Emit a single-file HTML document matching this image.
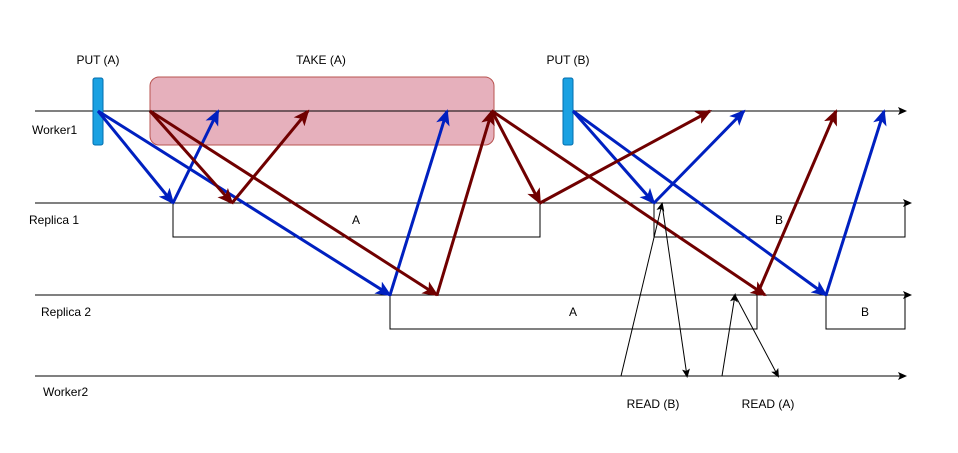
<!DOCTYPE html>
<html><head><meta charset="utf-8"><style>
html,body{margin:0;padding:0;background:#fff;width:958px;height:453px;overflow:hidden}
text{font-family:"Liberation Sans",sans-serif;font-size:12px;fill:#000}
</style></head><body>
<svg width="958" height="453" viewBox="0 0 958 453">
<defs>
<marker id="ab" markerWidth="16" markerHeight="14" refX="14" refY="7" orient="auto" markerUnits="userSpaceOnUse" viewBox="0 0 16 14"><path d="M0,0 L16,7 L0,14 L4,7z" fill="#0020c0"/></marker>
<marker id="ar" markerWidth="16" markerHeight="14" refX="14" refY="7" orient="auto" markerUnits="userSpaceOnUse" viewBox="0 0 16 14"><path d="M0,0 L16,7 L0,14 L4,7z" fill="#700000"/></marker>
<marker id="ak" markerWidth="9" markerHeight="8" refX="7" refY="4" orient="auto" markerUnits="userSpaceOnUse" viewBox="0 0 9 8"><path d="M0,0 L9,4 L0,8 L2,4z" fill="#000"/></marker>
</defs>
<rect x="150" y="77" width="344" height="68" rx="9" fill="#e6b0bc" stroke="#b85450"/>
<g stroke="#000" stroke-width="1" fill="none">
<line x1="35" y1="111" x2="905" y2="111" marker-end="url(#ak)"/>
<line x1="35" y1="203" x2="910" y2="203" marker-end="url(#ak)"/>
<line x1="35" y1="295" x2="910" y2="295" marker-end="url(#ak)"/>
<line x1="35" y1="376" x2="905" y2="376" marker-end="url(#ak)"/>
<rect x="173" y="203" width="367" height="34"/>
<rect x="654" y="203" width="251" height="34"/>
<rect x="390" y="295" width="367" height="34"/>
<rect x="826" y="295" width="79" height="34"/>
</g>
<rect x="93" y="78" width="10" height="67" rx="2" fill="#1ba1e2" stroke="#006eaf"/>
<rect x="563" y="78" width="10" height="67" rx="2" fill="#1ba1e2" stroke="#006eaf"/>
<g stroke="#0020c0" stroke-width="3" marker-end="url(#ab)">
<line x1="98" y1="111" x2="173" y2="203"/>
<line x1="98" y1="111" x2="390" y2="295"/>
<line x1="173" y1="203" x2="218" y2="111"/>
<line x1="390" y1="295" x2="447" y2="111"/>
<line x1="573" y1="111" x2="654" y2="203"/>
<line x1="573" y1="111" x2="826" y2="295"/>
<line x1="654" y1="203" x2="744" y2="111"/>
<line x1="826" y1="295" x2="884" y2="111"/>
</g>
<g stroke="#700000" stroke-width="3" marker-end="url(#ar)">
<line x1="150" y1="111" x2="232" y2="203"/>
<line x1="150" y1="111" x2="437" y2="295"/>
<line x1="232" y1="203" x2="308" y2="111"/>
<line x1="437" y1="295" x2="492" y2="111"/>
<line x1="492" y1="111" x2="540" y2="203"/>
<line x1="492" y1="111" x2="765" y2="295"/>
<line x1="540" y1="203" x2="710" y2="111"/>
<line x1="757" y1="295" x2="836" y2="111"/>
</g>
<g stroke="#000" stroke-width="1" marker-end="url(#ak)">
<line x1="621" y1="376" x2="662" y2="204"/>
<line x1="662" y1="204" x2="687" y2="376"/>
<line x1="722" y1="376" x2="735" y2="295"/>
<line x1="735" y1="295" x2="778" y2="376"/>
</g>
<text x="98" y="64" text-anchor="middle">PUT (A)</text>
<text x="321" y="64" text-anchor="middle">TAKE (A)</text>
<text x="568" y="64" text-anchor="middle">PUT (B)</text>
<text x="32" y="134">Worker1</text>
<text x="29" y="224">Replica 1</text>
<text x="41" y="316">Replica 2</text>
<text x="43" y="396">Worker2</text>
<text x="356" y="224" text-anchor="middle">A</text>
<text x="779" y="224" text-anchor="middle">B</text>
<text x="573" y="316" text-anchor="middle">A</text>
<text x="865" y="316" text-anchor="middle">B</text>
<text x="653" y="408" text-anchor="middle">READ (B)</text>
<text x="768" y="408" text-anchor="middle">READ (A)</text>
</svg>
</body></html>
